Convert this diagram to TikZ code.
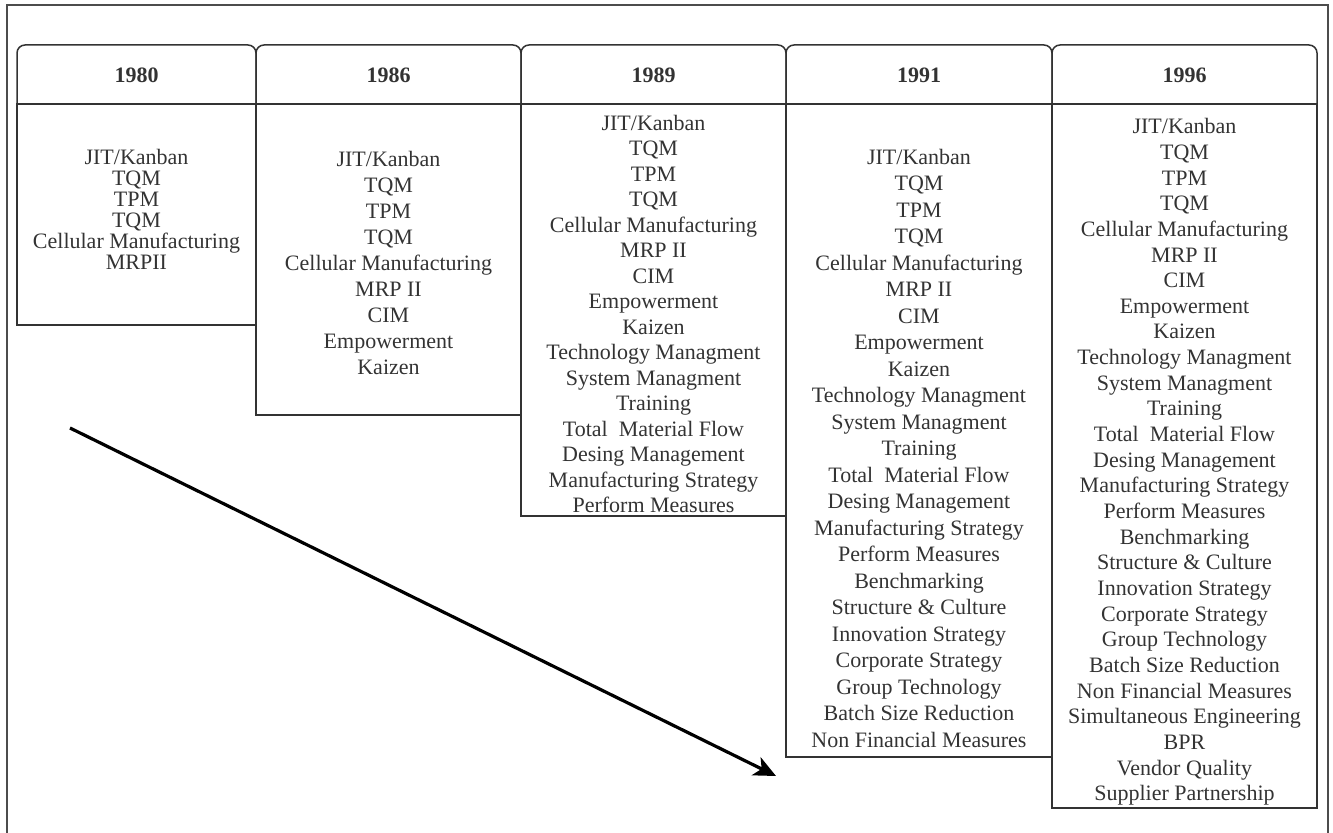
\documentclass[tikz,border=0pt]{standalone}
\usepackage{fontspec}
\setmainfont{Liberation Serif}
\usetikzlibrary{arrows.meta}
\begin{document}
\begin{tikzpicture}[x=0.5pt, y=-0.5pt, line width=0.75pt, color=black!80,
  kopf/.style={rounded corners=4pt},
  jahr/.style={font=\fontsize{11pt}{13pt}\bfseries},
  liste/.style={align=center, inner sep=0pt, font=\fontsize{11pt}{#1}\selectfont}]
\useasboundingbox (0,0) rectangle (1333,833);
% Rahmen
\draw[black!70] (7,5) rectangle (1328,850);

% Kopfzeilen
\draw[kopf] (17,104) -- (17,45) -- (256,45) -- (256,104);
\draw[kopf] (256,104) -- (256,45) -- (521,45) -- (521,104);
\draw[kopf] (521,104) -- (521,45) -- (786,45) -- (786,104);
\draw[kopf] (786,104) -- (786,45) -- (1052,45) -- (1052,104);
\draw[kopf] (1052,104) -- (1052,45) -- (1317,45) -- (1317,104);

% Spalten
\draw (17,104) rectangle (256,325);
\draw (256,104) rectangle (521,415);
\draw (521,104) rectangle (786,516);
\draw (786,104) rectangle (1052,757);
\draw (1052,104) rectangle (1317,808);

\node[jahr] (j1980) at (136.5,75) {1980};
\node[jahr] (j1986) at (388.5,75) {1986};
\node[jahr] (j1989) at (653.5,75) {1989};
\node[jahr] (j1991) at (919,75) {1991};
\node[jahr] (j1996) at (1184.5,75) {1996};

% Inhalte
\node[liste=10.5pt] (l1980) at (136.5,209) {JIT/Kanban\\TQM\\TPM\\TQM\\Cellular Manufacturing\\MRPII};
\node[liste=13pt] (l1986) at (388.5,263) {JIT/Kanban\\TQM\\TPM\\TQM\\Cellular Manufacturing\\MRP II\\CIM\\Empowerment\\Kaizen};
\node[liste=12.75pt] (l1989) at (653.5,314) {JIT/Kanban\\TQM\\TPM\\TQM\\Cellular Manufacturing\\MRP II\\CIM\\Empowerment\\Kaizen\\Technology Managment\\System Managment\\Training\\Total~ Material Flow\\Desing Management\\Manufacturing Strategy\\Perform Measures};
\node[liste=13.25pt] (l1991) at (919,448) {JIT/Kanban\\TQM\\TPM\\TQM\\Cellular Manufacturing\\MRP II\\CIM\\Empowerment\\Kaizen\\Technology Managment\\System Managment\\Training\\Total~ Material Flow\\Desing Management\\Manufacturing Strategy\\Perform Measures\\Benchmarking\\Structure \& Culture\\Innovation Strategy\\Corporate Strategy\\Group Technology\\Batch Size Reduction\\Non Financial Measures};
\node[liste=12.83pt] (l1996) at (1184.5,462) {JIT/Kanban\\TQM\\TPM\\TQM\\Cellular Manufacturing\\MRP II\\CIM\\Empowerment\\Kaizen\\Technology Managment\\System Managment\\Training\\Total~ Material Flow\\Desing Management\\Manufacturing Strategy\\Perform Measures\\Benchmarking\\Structure \& Culture\\Innovation Strategy\\Corporate Strategy\\Group Technology\\Batch Size Reduction\\Non Financial Measures\\Simultaneous Engineering\\BPR\\Vendor Quality\\Supplier Partnership};

% Pfeil
\coordinate (pstart) at (70,428);
\coordinate (pende) at (776,776);
\draw[black, line width=1.6pt, -{Stealth[length=11pt, width=10pt, inset=3pt]}] (pstart) -- (pende);

\end{tikzpicture}
\end{document}
